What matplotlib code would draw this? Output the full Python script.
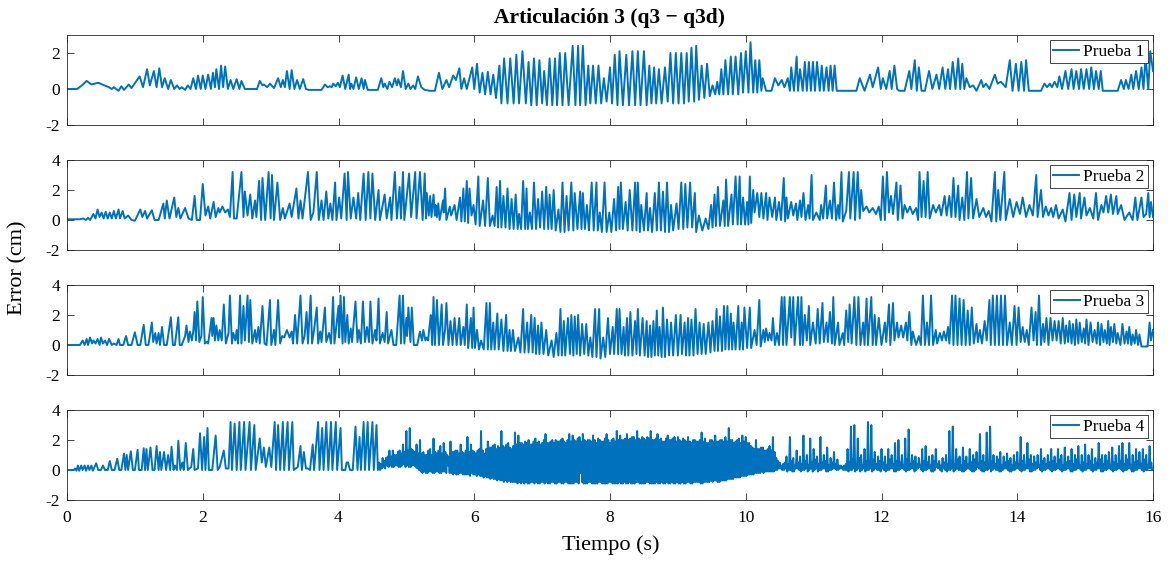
import numpy as np
import matplotlib
matplotlib.use("Agg")
import matplotlib.pyplot as plt

plt.rcParams["font.family"] = ["Liberation Serif", "DejaVu Serif"]
plt.rcParams["axes.unicode_minus"] = False

BLUE = "#0072BD"
EDGE = "#262626"

title = "Articulación 3 (q3 − q3d)"
labels = ["Prueba 1", "Prueba 2", "Prueba 3", "Prueba 4"]
x_ticks = [0, 2, 4, 6, 8, 10, 12, 14, 16]
y_limits = [(-2, 3), (-2, 4), (-2, 4), (-2, 4)]
y_ticks = [[-2, 0, 2], [-2, 0, 2, 4], [-2, 0, 2, 4], [-2, 0, 2, 4]]

# error samples (t [s], e [cm]) for each trial
prueba1 = [
    (0.00, 0.0), (0.15, 0.0), (0.22, 0.2), (0.29, 0.45), (0.36, 0.25), (0.46, 0.35), (0.55, 0.2),
    (0.62, 0.1), (0.66, 0.0), (0.69, 0.1), (0.76, -0.1), (0.80, 0.15), (0.84, -0.05), (0.91, 0.25),
    (0.95, 0.05), (1.07, 0.7), (1.12, 0.1), (1.18, 1.1), (1.22, 0.2), (1.28, 1.0), (1.32, 0.1),
    (1.36, 1.15), (1.40, 0.1), (1.44, 0.6), (1.49, 0.0), (1.53, 0.5), (1.58, 0.0), (1.62, 0.2),
    (1.66, 0.0), (1.69, 0.1), (1.74, -0.05), (1.78, 0.2), (1.82, 0.0), (1.86, 0.6), (1.90, 0.0),
    (1.93, 0.75), (1.97, 0.0), (2.00, 0.75), (2.04, 0.0), (2.08, 0.8), (2.12, 0.0), (2.15, 0.9),
    (2.18, 0.1), (2.20, 1.1), (2.24, 0.0), (2.27, 1.3), (2.30, 0.1), (2.33, 1.25), (2.37, 0.0),
    (2.41, 0.5), (2.45, 0.0), (2.50, 0.55), (2.54, 0.0), (2.57, 0.45), (2.62, 0.0), (2.80, 0.0),
    (2.84, 0.45), (2.88, 0.2), (2.90, 0.25), (2.95, 0.1), (2.99, 0.3), (3.05, 0.05), (3.11, 0.6),
    (3.15, 0.1), (3.18, 0.5), (3.21, 0.1), (3.24, 1.0), (3.28, 0.0), (3.31, 1.05), (3.35, 0.0),
    (3.39, 0.5), (3.43, 0.0), (3.48, 0.55), (3.52, 0.0), (3.56, -0.05), (3.75, -0.05), (3.80, 0.25),
    (3.84, 0.1), (3.87, 0.15), (3.90, 0.1), (3.92, 0.3), (3.96, 0.15), (3.99, 0.35), (4.02, 0.1),
    (4.06, 0.75), (4.10, 0.0), (4.15, 0.8), (4.17, 0.0), (4.19, 0.3), (4.22, 0.0), (4.26, 0.65),
    (4.30, 0.0), (4.34, 0.6), (4.37, 0.0), (4.39, 0.5), (4.43, -0.05), (4.58, -0.05), (4.63, 0.6),
    (4.66, 0.1), (4.68, 0.3), (4.72, 0.0), (4.75, 0.4), (4.79, 0.1), (4.83, 0.6), (4.86, 0.2),
    (4.88, 0.55), (4.92, 0.1), (4.95, 1.0), (4.99, 0.0), (5.03, 0.3), (5.06, 0.0), (5.10, 0.2),
    (5.13, 0.0), (5.17, 0.7), (5.22, 0.1), (5.27, -0.05), (5.35, -0.1), (5.42, -0.1), (5.48, 0.9),
    (5.53, 0.0), (5.59, 0.5), (5.63, 0.1), (5.69, 0.75), (5.73, 0.5), (5.78, 1.15), (5.81, 0.0),
    (5.85, 0.6), (5.89, 0.0), (5.97, 1.2), (6.00, 0.0), (6.04, 1.4), (6.08, -0.2), (6.12, 0.9),
    (6.16, -0.3), (6.20, 0.95), (6.24, -0.3), (6.28, 0.8), (6.32, -0.5), (6.37, 1.3), (6.40, -0.8),
    (6.44, 1.7), (6.49, -0.8), (6.53, 1.7), (6.58, -0.8), (6.62, 1.9), (6.66, -0.8), (6.71, 2.1),
    (6.76, -0.8), (6.80, 1.5), (6.84, -0.9), (6.88, 1.7), (6.92, -0.9), (6.96, 1.6), (7.00, -0.8),
    (7.03, 1.0), (7.07, -0.9), (7.11, 1.7), (7.15, -0.9), (7.19, 1.7), (7.22, -0.9), (7.26, 2.0),
    (7.30, -0.9), (7.34, 2.0), (7.39, -0.9), (7.45, 2.4), (7.49, -0.9), (7.53, 2.4), (7.56, -0.9),
    (7.60, 2.4), (7.64, -0.9), (7.68, 1.3), (7.71, -0.8), (7.75, 1.3), (7.79, -0.8), (7.83, 1.3),
    (7.87, -0.8), (7.91, 0.6), (7.95, -0.7), (8.00, 1.2), (8.03, -0.8), (8.07, 1.9), (8.11, -0.9),
    (8.14, 2.1), (8.19, -0.9), (8.24, 1.9), (8.28, -0.9), (8.33, 2.1), (8.37, -0.9), (8.41, 2.1),
    (8.45, -0.9), (8.50, 2.1), (8.54, -0.9), (8.58, 1.3), (8.61, -0.8), (8.65, 1.2), (8.68, -0.8),
    (8.72, 1.1), (8.76, -0.8), (8.81, 1.2), (8.85, -0.7), (8.89, 2.0), (8.93, -0.8), (8.97, 2.0),
    (9.01, -0.8), (9.05, 2.0), (9.09, -0.8), (9.13, 2.0), (9.16, -0.7), (9.20, 2.3), (9.24, -0.7),
    (9.27, 2.4), (9.31, -0.6), (9.35, 1.3), (9.39, -0.5), (9.43, 1.4), (9.47, -0.4), (9.51, 0.2),
    (9.55, -0.3), (9.58, 0.4), (9.61, -0.3), (9.64, 1.1), (9.67, -0.3), (9.70, 1.6), (9.74, -0.3),
    (9.78, 1.8), (9.81, -0.3), (9.85, 1.8), (9.89, -0.3), (9.93, 2.0), (9.96, -0.2), (10.00, 2.1),
    (10.04, -0.2), (10.07, 2.6), (10.11, -0.2), (10.14, 1.6), (10.17, -0.2), (10.20, 1.6),
    (10.23, -0.1), (10.25, 0.6), (10.30, -0.1), (10.38, -0.1), (10.43, 0.6), (10.48, 0.2),
    (10.53, 0.5), (10.57, 0.1), (10.62, 0.6), (10.65, -0.1), (10.67, 1.2), (10.71, -0.1),
    (10.75, 1.8), (10.77, -0.1), (10.80, 1.1), (10.84, -0.1), (10.87, 1.5), (10.90, -0.1),
    (10.93, 1.5), (10.96, -0.1), (10.99, 1.5), (11.02, -0.1), (11.05, 1.5), (11.09, -0.1),
    (11.12, 1.3), (11.15, -0.1), (11.19, 1.2), (11.22, -0.1), (11.25, 1.3), (11.28, -0.1),
    (11.31, 1.3), (11.34, -0.1), (11.63, -0.1), (11.68, 0.6), (11.75, -0.1), (11.83, 0.8),
    (11.87, 0.1), (11.95, 1.2), (11.99, 0.0), (12.02, 0.6), (12.07, 0.0), (12.12, 1.0),
    (12.15, 0.0), (12.19, 1.3), (12.23, 0.0), (12.26, -0.1), (12.34, -0.1), (12.41, 1.0),
    (12.44, 0.0), (12.49, 1.6), (12.52, -0.1), (12.55, 1.2), (12.59, -0.1), (12.64, -0.1),
    (12.70, 1.0), (12.75, 0.0), (12.81, 0.8), (12.85, 0.0), (12.90, 1.2), (12.94, 0.0),
    (12.98, 1.1), (13.01, 0.0), (13.05, 1.5), (13.09, 0.0), (13.13, 1.7), (13.16, 0.0),
    (13.19, 1.4), (13.22, 0.0), (13.25, 0.6), (13.30, 0.1), (13.35, 0.2), (13.40, -0.1),
    (13.47, 0.5), (13.50, 0.1), (13.54, 0.3), (13.59, 0.0), (13.67, 0.8), (13.71, 0.3),
    (13.76, 0.4), (13.83, 0.1), (13.89, 1.6), (13.93, -0.1), (13.98, 1.4), (14.02, -0.1),
    (14.06, 1.5), (14.10, -0.1), (14.13, 1.6), (14.17, -0.1), (14.35, -0.1), (14.40, 0.3),
    (14.44, 0.1), (14.48, 0.3), (14.51, 0.1), (14.55, 0.4), (14.59, 0.1), (14.62, 0.7),
    (14.66, 0.0), (14.71, 1.0), (14.75, 0.0), (14.80, 1.1), (14.83, 0.0), (14.87, 1.0),
    (14.91, 0.0), (14.94, 1.1), (14.98, 0.0), (15.02, 1.1), (15.06, 0.0), (15.09, 1.2),
    (15.13, 0.0), (15.16, 1.0), (15.20, 0.0), (15.23, 1.0), (15.26, -0.1), (15.48, -0.1),
    (15.53, 0.5), (15.57, 0.0), (15.60, 0.5), (15.64, 0.0), (15.68, 0.8), (15.71, 0.0),
    (15.75, 1.0), (15.79, 0.0), (15.83, 1.2), (15.86, 0.0), (15.89, 1.8), (15.93, 0.0),
    (15.96, 2.1), (16.00, 1.0),
]

prueba2 = [
    (0.00, 0.05), (0.19, 0.05), (0.24, 0.1), (0.28, 0.0), (0.31, 0.15), (0.34, 0.0), (0.39, 0.4),
    (0.42, 0.1), (0.45, 0.7), (0.48, 0.2), (0.51, 0.5), (0.54, 0.1), (0.57, 0.55), (0.60, 0.1),
    (0.63, 0.5), (0.66, 0.1), (0.69, 0.6), (0.72, 0.1), (0.76, 0.7), (0.78, 0.1), (0.82, 0.6),
    (0.85, 0.1), (0.90, 0.3), (0.95, 0.0), (1.00, -0.05), (1.08, 0.7), (1.11, 0.2), (1.15, 0.6),
    (1.18, 0.1), (1.25, 0.65), (1.29, 0.0), (1.35, 0.0), (1.42, 1.1), (1.44, 0.1), (1.47, 1.3),
    (1.51, 0.1), (1.58, 1.5), (1.61, 0.2), (1.64, 0.8), (1.67, 0.1), (1.74, 0.8), (1.79, 0.1),
    (1.84, 0.0), (1.88, 1.6), (1.91, 0.0), (1.96, 0.0), (2.00, 2.4), (2.04, 0.3), (2.08, 0.9),
    (2.11, 0.1), (2.16, 1.2), (2.19, 0.2), (2.23, 0.8), (2.25, 0.5), (2.29, 0.9), (2.33, 0.5),
    (2.37, 0.7), (2.40, 0.2), (2.44, 3.2), (2.46, 0.1), (2.50, 0.1), (2.57, 3.2), (2.60, 0.2),
    (2.62, 1.9), (2.66, 0.3), (2.70, 1.7), (2.73, 0.1), (2.77, 1.3), (2.79, 0.2), (2.83, 2.6),
    (2.86, 0.0), (2.88, 2.8), (2.92, 0.0), (2.97, 3.2), (3.00, 0.1), (3.02, 3.0), (3.05, 0.0),
    (3.10, 2.5), (3.14, 0.0), (3.18, 0.8), (3.21, 0.1), (3.28, 1.1), (3.31, 0.2), (3.38, 2.1),
    (3.41, 0.1), (3.44, 1.3), (3.47, 0.1), (3.55, 3.2), (3.59, 0.0), (3.63, 0.5), (3.68, 3.2),
    (3.71, 0.0), (3.75, 1.3), (3.78, 0.0), (3.82, 1.9), (3.85, 0.1), (3.88, 1.1), (3.91, 0.0),
    (3.95, 2.5), (3.97, 0.0), (4.01, 1.5), (4.04, 0.1), (4.09, 3.1), (4.12, 0.0), (4.14, 3.2),
    (4.18, 0.1), (4.22, 1.5), (4.26, 0.1), (4.29, 1.8), (4.32, 0.0), (4.37, 3.1), (4.40, 0.0),
    (4.44, 3.2), (4.47, 0.1), (4.50, 3.1), (4.54, 0.0), (4.59, 2.0), (4.61, 0.0), (4.68, 1.7),
    (4.71, 0.1), (4.76, 1.5), (4.78, 0.0), (4.83, 3.2), (4.86, 0.1), (4.90, 2.2), (4.92, 0.1),
    (4.95, 3.2), (4.97, 0.0), (5.04, 3.1), (5.07, 0.2), (5.13, 3.2), (5.15, 0.1), (5.20, 3.2),
    (5.24, 0.0), (5.27, 3.1), (5.29, 0.1), (5.30, 1.8), (5.33, 0.3), (5.35, 1.6), (5.37, 0.2),
    (5.40, 1.7), (5.42, 0.3), (5.43, 1.0), (5.45, 0.2), (5.47, 1.1), (5.49, 0.0), (5.54, 1.3),
    (5.55, 0.5), (5.57, 2.1), (5.59, 0.0), (5.64, 0.9), (5.66, 0.3), (5.71, 1.0), (5.74, 0.0),
    (5.79, 1.5), (5.81, -0.1), (5.84, 2.1), (5.86, -0.1), (5.89, 2.6), (5.91, -0.2), (5.93, 2.1),
    (5.96, 0.3), (5.99, 1.0), (6.02, -0.3), (6.06, 2.9), (6.08, -0.4), (6.13, 1.3), (6.16, -0.4),
    (6.20, 2.8), (6.23, -0.4), (6.27, 0.3), (6.30, -0.4), (6.33, 2.2), (6.35, -0.5), (6.38, 2.6),
    (6.40, -0.5), (6.43, 1.6), (6.46, -0.5), (6.49, 2.1), (6.52, -0.6), (6.55, 1.4), (6.58, -0.6),
    (6.61, 1.7), (6.64, -0.6), (6.66, 0.4), (6.69, -0.6), (6.72, 2.6), (6.75, -0.6), (6.77, 2.1),
    (6.79, -0.6), (6.82, 0.5), (6.85, -0.6), (6.88, 2.5), (6.91, -0.6), (6.94, 1.4), (6.97, -0.5),
    (7.00, 1.9), (7.03, -0.6), (7.06, 2.2), (7.09, -0.6), (7.11, 1.7), (7.14, -0.6), (7.17, 2.0),
    (7.20, -0.7), (7.24, 0.7), (7.27, -0.8), (7.30, 2.5), (7.33, -0.8), (7.36, 1.6), (7.39, -0.7),
    (7.43, 2.5), (7.46, -0.7), (7.48, 1.8), (7.52, -0.6), (7.56, 1.9), (7.58, -0.6), (7.60, 1.8),
    (7.63, -0.6), (7.66, 1.0), (7.69, -0.7), (7.73, 2.5), (7.76, -0.7), (7.80, 2.5), (7.82, -0.7),
    (7.85, 0.5), (7.88, -0.8), (7.92, 2.5), (7.95, -0.8), (7.99, 0.5), (8.02, -0.8), (8.06, 1.4),
    (8.09, -0.7), (8.12, 2.2), (8.14, -0.6), (8.16, 2.5), (8.19, -0.6), (8.23, 1.2), (8.26, -0.7),
    (8.29, 2.0), (8.33, -0.7), (8.37, 2.5), (8.39, -0.7), (8.41, 2.5), (8.44, -0.8), (8.46, 1.0),
    (8.50, -0.7), (8.54, 1.8), (8.56, -0.7), (8.59, 0.8), (8.62, -0.8), (8.66, 1.8), (8.69, -0.7),
    (8.72, 2.5), (8.75, -0.7), (8.78, 1.9), (8.81, -0.8), (8.84, 2.5), (8.87, -0.8), (8.90, 1.0),
    (8.93, -0.7), (8.98, 1.1), (9.01, -0.6), (9.05, 2.5), (9.08, -0.6), (9.11, 2.4), (9.14, -0.5),
    (9.18, 2.5), (9.21, -0.5), (9.25, 1.8), (9.27, -0.8), (9.31, 0.3), (9.36, -0.7), (9.41, 0.1),
    (9.45, -0.6), (9.49, 1.0), (9.51, -0.5), (9.54, 1.7), (9.56, -0.4), (9.59, 2.2), (9.62, -0.4),
    (9.67, 1.3), (9.69, -0.4), (9.71, 2.7), (9.74, -0.4), (9.79, 1.7), (9.81, -0.3), (9.85, 2.9),
    (9.88, -0.3), (9.91, 2.9), (9.93, -0.3), (9.96, 1.5), (9.99, -0.3), (10.02, 1.2), (10.04, -0.3),
    (10.06, 2.9), (10.08, -0.2), (10.11, 2.0), (10.13, 0.5), (10.17, 1.8), (10.20, 0.2),
    (10.23, 1.8), (10.26, 0.1), (10.30, 1.8), (10.32, 0.0), (10.35, 1.5), (10.39, 0.2),
    (10.43, 1.5), (10.45, 0.0), (10.49, 1.2), (10.52, 0.0), (10.56, 2.8), (10.58, -0.1),
    (10.60, 1.5), (10.62, 0.1), (10.67, 1.2), (10.70, 0.3), (10.74, 1.1), (10.76, 0.0),
    (10.80, 1.3), (10.82, 0.2), (10.85, 1.8), (10.88, 0.0), (10.92, 1.0), (10.94, 0.1),
    (10.97, 3.0), (10.99, 0.0), (11.04, 0.5), (11.09, 0.0), (11.11, 1.0), (11.14, 0.1),
    (11.18, 2.3), (11.20, 0.1), (11.24, 1.3), (11.27, 0.1), (11.30, 2.5), (11.33, 0.0),
    (11.36, 1.0), (11.38, 0.1), (11.41, 3.2), (11.43, -0.1), (11.48, 0.6), (11.52, 3.2),
    (11.54, 0.1), (11.59, 3.2), (11.61, 0.0), (11.65, 3.2), (11.68, 0.1), (11.70, 2.0),
    (11.73, 0.6), (11.78, 0.9), (11.82, 0.5), (11.87, 0.8), (11.92, 0.4), (11.96, 0.9),
    (11.99, 0.0), (12.02, 2.9), (12.05, 0.0), (12.08, 3.2), (12.11, 0.5), (12.14, 1.6),
    (12.17, 0.4), (12.22, 2.5), (12.24, 0.0), (12.28, 2.3), (12.31, 0.1), (12.34, 1.0),
    (12.38, 0.5), (12.42, 0.9), (12.46, 0.4), (12.51, 0.8), (12.54, 0.0), (12.56, 3.2),
    (12.59, 0.2), (12.62, 2.6), (12.65, 0.2), (12.68, 3.2), (12.71, 0.1), (12.76, 1.0),
    (12.80, 0.5), (12.85, 1.0), (12.88, 0.3), (12.93, 1.6), (12.96, 0.3), (13.00, 1.6),
    (13.03, 0.2), (13.06, 2.8), (13.09, 0.2), (13.13, 2.3), (13.15, 0.0), (13.19, 1.5),
    (13.22, 0.0), (13.26, 3.2), (13.28, 0.1), (13.32, 2.8), (13.35, 0.1), (13.40, 1.4),
    (13.44, 0.2), (13.50, 0.8), (13.54, 0.2), (13.58, 0.6), (13.62, -0.1), (13.67, 3.2),
    (13.69, -0.1), (13.72, 2.0), (13.75, 0.0), (13.81, 3.2), (13.83, 0.0), (13.89, 1.4),
    (13.94, 0.2), (13.99, 1.2), (14.04, 0.4), (14.08, 1.5), (14.13, 0.2), (14.18, 1.0),
    (14.23, 0.3), (14.28, 3.0), (14.30, 0.2), (14.35, 2.0), (14.38, 0.2), (14.42, 0.9),
    (14.46, 0.3), (14.50, 0.8), (14.53, 0.2), (14.57, 1.0), (14.61, 0.1), (14.67, 0.7),
    (14.71, -0.1), (14.77, 1.8), (14.80, 0.0), (14.84, 1.7), (14.87, 0.2), (14.92, 1.8),
    (14.94, 0.1), (14.99, 1.5), (15.02, 0.3), (15.07, 0.8), (15.12, 0.1), (15.16, 1.8),
    (15.19, 0.0), (15.24, 1.0), (15.27, 0.5), (15.31, 1.6), (15.34, 0.5), (15.38, 1.7),
    (15.41, 0.4), (15.46, 1.6), (15.48, 0.4), (15.53, 1.0), (15.58, 0.0), (15.65, 0.5),
    (15.70, 0.0), (15.74, 1.5), (15.77, 0.0), (15.83, 1.5), (15.86, 0.2), (15.90, 0.4),
    (15.93, 1.8), (15.95, 0.2), (15.97, 1.2), (16.00, 0.2),
]

prueba3 = [
    (0.00, 0.0), (0.19, 0.0), (0.23, 0.3), (0.26, 0.0), (0.29, 0.4), (0.31, 0.0), (0.34, 0.5),
    (0.37, 0.1), (0.39, 0.3), (0.42, 0.1), (0.45, 0.4), (0.48, 0.0), (0.50, 0.5), (0.53, 0.1),
    (0.56, 0.3), (0.59, 0.0), (0.62, 0.4), (0.66, 0.0), (0.69, 0.1), (0.73, 0.0), (0.76, 0.4),
    (0.78, 0.0), (0.83, 0.0), (0.87, 0.6), (0.90, 0.0), (0.95, 0.0), (1.00, 0.85), (1.04, 0.0),
    (1.08, 0.0), (1.13, 1.35), (1.16, 0.0), (1.20, 0.0), (1.25, 1.5), (1.27, 0.2), (1.30, 0.8),
    (1.32, 0.1), (1.35, 0.8), (1.37, 0.0), (1.40, 1.2), (1.43, 0.0), (1.47, 0.0), (1.53, 1.85),
    (1.56, 0.0), (1.59, 0.0), (1.64, 1.85), (1.66, 0.0), (1.69, 0.0), (1.74, 0.6), (1.76, 1.3),
    (1.79, 0.2), (1.81, 0.9), (1.84, 0.3), (1.86, 0.9), (1.88, 2.2), (1.90, 0.3), (1.92, 2.9),
    (1.95, 0.2), (1.98, 0.6), (2.00, 3.2), (2.03, 0.1), (2.06, 0.2), (2.08, 0.1), (2.13, 1.8),
    (2.14, 0.6), (2.16, 1.8), (2.18, 0.3), (2.20, 1.3), (2.23, 0.3), (2.25, 1.0), (2.28, 0.3),
    (2.31, 2.7), (2.34, 0.1), (2.38, 0.8), (2.40, 3.3), (2.43, 0.1), (2.45, 0.8), (2.48, 0.3),
    (2.50, 1.0), (2.52, 0.1), (2.55, 3.3), (2.57, 0.1), (2.60, 2.6), (2.62, 0.3), (2.66, 3.3),
    (2.68, 0.2), (2.70, 3.0), (2.73, 0.1), (2.77, 1.0), (2.79, 0.2), (2.82, 1.2), (2.84, 0.1),
    (2.88, 2.6), (2.91, 0.1), (2.94, 0.0), (2.99, 3.0), (3.01, 0.0), (3.05, 1.0), (3.07, 0.0),
    (3.11, 3.0), (3.14, 0.1), (3.17, 0.6), (3.20, 0.5), (3.24, 1.0), (3.28, 0.5), (3.31, 0.9),
    (3.33, 0.1), (3.36, 2.0), (3.39, 0.1), (3.44, 3.3), (3.47, 0.1), (3.50, 0.6), (3.53, 2.2),
    (3.55, 0.1), (3.59, 3.3), (3.61, 0.1), (3.64, 1.0), (3.68, 2.5), (3.70, 0.1), (3.73, 0.9),
    (3.75, 0.2), (3.80, 2.5), (3.82, 0.2), (3.86, 0.8), (3.89, 0.1), (3.92, 3.2), (3.94, 0.1),
    (4.00, 2.6), (4.01, 0.5), (4.03, 3.3), (4.06, 0.1), (4.08, 3.2), (4.10, 0.2), (4.13, 2.0),
    (4.15, 0.1), (4.18, 1.1), (4.20, 0.2), (4.25, 2.9), (4.28, 0.2), (4.30, 1.0), (4.33, 0.1),
    (4.36, 2.9), (4.39, 0.2), (4.42, 1.2), (4.45, 0.2), (4.47, 2.9), (4.50, 0.1), (4.54, 1.0),
    (4.56, 0.3), (4.59, 3.1), (4.61, 0.1), (4.65, 0.8), (4.68, 0.2), (4.71, 2.2), (4.73, 0.1),
    (4.78, 1.0), (4.81, 0.0), (4.85, 0.0), (4.90, 3.3), (4.92, 0.1), (4.95, 3.3), (4.97, 0.1),
    (5.00, 1.8), (5.01, 0.6), (5.03, 2.5), (5.06, 0.2), (5.08, 2.5), (5.11, 0.0), (5.16, 0.0),
    (5.20, 0.9), (5.23, 0.3), (5.25, 1.0), (5.28, 0.3), (5.30, 0.5), (5.32, 0.3), (5.34, 1.2),
    (5.36, 2.0), (5.38, 0.0), (5.40, 3.2), (5.42, 0.0), (5.45, 3.0), (5.48, 0.0), (5.52, 2.7),
    (5.54, 0.0), (5.57, 1.0), (5.59, 2.8), (5.62, 0.0), (5.65, 1.6), (5.68, 0.0), (5.71, 1.8),
    (5.74, 0.0), (5.78, 1.8), (5.80, 0.0), (5.84, 1.2), (5.86, 0.0), (5.89, 2.7), (5.91, -0.2),
    (5.95, 1.8), (5.97, -0.2), (5.99, 2.5), (6.01, -0.2), (6.04, 1.0), (6.07, -0.3), (6.10, 0.3),
    (6.14, -0.3), (6.18, 2.8), (6.20, -0.3), (6.23, 2.8), (6.25, -0.3), (6.28, 1.5), (6.30, -0.3),
    (6.34, 2.1), (6.36, -0.3), (6.40, 1.7), (6.43, -0.4), (6.47, 2.0), (6.49, -0.4), (6.52, 1.0),
    (6.54, -0.4), (6.57, 1.0), (6.60, -0.4), (6.65, 0.5), (6.68, -0.5), (6.72, 2.4), (6.74, -0.5),
    (6.78, 1.5), (6.80, -0.5), (6.84, 2.0), (6.86, -0.5), (6.89, 1.8), (6.91, -0.6), (6.94, 1.3),
    (6.96, -0.6), (6.99, 1.5), (7.02, -0.6), (7.06, 1.0), (7.09, -0.7), (7.14, 0.3), (7.17, -0.8),
    (7.21, 0.8), (7.24, -0.7), (7.27, 2.4), (7.29, -0.7), (7.32, 1.6), (7.34, -0.7), (7.38, 1.8),
    (7.41, -0.6), (7.43, 2.0), (7.46, -0.7), (7.48, 1.9), (7.51, -0.6), (7.53, 2.0), (7.56, -0.7),
    (7.59, 1.4), (7.62, -0.6), (7.65, 1.4), (7.68, -0.7), (7.71, 0.5), (7.74, -0.8), (7.78, 2.4),
    (7.80, -0.8), (7.84, 2.4), (7.86, -0.9), (7.90, 0.5), (7.93, -0.8), (7.97, 1.8), (8.00, -0.6),
    (8.04, 1.2), (8.06, -0.6), (8.10, 2.4), (8.12, -0.6), (8.14, 2.4), (8.17, -0.6), (8.20, 1.2),
    (8.22, -0.7), (8.25, 1.8), (8.27, -0.7), (8.30, 2.2), (8.33, -0.7), (8.37, 1.6), (8.39, -0.6),
    (8.41, 2.4), (8.44, -0.7), (8.48, 1.8), (8.51, -0.7), (8.54, 1.6), (8.56, -0.8), (8.59, 1.3),
    (8.61, -0.8), (8.64, 1.6), (8.66, -0.7), (8.69, 2.3), (8.71, -0.7), (8.73, 1.2), (8.76, -0.8),
    (8.78, 2.5), (8.81, -0.8), (8.84, 1.7), (8.87, -0.7), (8.90, 1.5), (8.93, -0.7), (8.97, 2.0),
    (9.00, -0.7), (9.04, 2.0), (9.06, -0.6), (9.10, 1.5), (9.12, -0.7), (9.15, 1.8), (9.17, -0.7),
    (9.20, 1.7), (9.23, -0.7), (9.26, 2.4), (9.29, -0.6), (9.32, 1.5), (9.35, -0.6), (9.38, 1.4),
    (9.41, -0.6), (9.45, 1.5), (9.48, -0.5), (9.51, 1.6), (9.54, -0.4), (9.57, 2.4), (9.59, -0.4),
    (9.62, 1.9), (9.65, -0.4), (9.68, 2.6), (9.70, -0.3), (9.73, 2.6), (9.75, -0.3), (9.78, 2.1),
    (9.80, -0.3), (9.82, 1.5), (9.85, -0.3), (9.89, 2.6), (9.91, -0.3), (9.94, 1.5), (9.96, -0.3),
    (9.98, 2.5), (10.02, -0.2), (10.06, 2.5), (10.08, -0.2), (10.13, 1.0), (10.16, 0.0),
    (10.20, 3.0), (10.22, -0.1), (10.26, 1.0), (10.28, 0.2), (10.30, 1.1), (10.33, 0.3),
    (10.35, 0.8), (10.38, 0.3), (10.40, 1.8), (10.43, 0.0), (10.46, 0.8), (10.49, 0.0),
    (10.53, 3.2), (10.55, 0.0), (10.57, 3.2), (10.60, 0.0), (10.65, 3.2), (10.67, 0.5),
    (10.70, 3.2), (10.72, 0.0), (10.77, 3.2), (10.80, 0.0), (10.82, 3.2), (10.84, 0.0),
    (10.87, 2.0), (10.90, 0.3), (10.93, 2.6), (10.95, 0.0), (10.99, 1.5), (11.03, 0.1),
    (11.06, 2.4), (11.09, 0.1), (11.13, 2.8), (11.15, 0.2), (11.19, 1.5), (11.21, 0.2),
    (11.24, 2.2), (11.27, 0.1), (11.29, 3.2), (11.31, 0.0), (11.36, 1.5), (11.38, 0.0),
    (11.43, 0.8), (11.45, 0.0), (11.48, 2.3), (11.51, 0.2), (11.53, 2.7), (11.56, 0.1),
    (11.60, 3.2), (11.63, 0.0), (11.66, 3.2), (11.69, 0.0), (11.73, 1.5), (11.75, 0.0),
    (11.78, 3.1), (11.80, 0.0), (11.85, 3.2), (11.87, 0.0), (11.90, 2.0), (11.92, 0.0),
    (11.96, 1.8), (12.00, 0.0), (12.05, 1.5), (12.07, 0.2), (12.11, 2.7), (12.13, 0.0),
    (12.17, 2.8), (12.19, 0.3), (12.23, 1.5), (12.25, 0.5), (12.29, 1.3), (12.32, 0.5),
    (12.36, 1.5), (12.38, 0.3), (12.41, 2.2), (12.44, 0.0), (12.46, 0.9), (12.51, 0.0),
    (12.55, 0.6), (12.58, 0.0), (12.61, 3.3), (12.64, 0.0), (12.67, 1.5), (12.70, 0.0),
    (12.73, 3.3), (12.76, 0.0), (12.80, 1.0), (12.82, 0.1), (12.86, 0.8), (12.89, 0.3),
    (12.92, 0.9), (12.95, 0.3), (12.98, 1.2), (13.00, 0.1), (13.04, 3.3), (13.06, 0.0),
    (13.09, 3.3), (13.12, 0.0), (13.15, 3.1), (13.18, 0.0), (13.21, 3.0), (13.24, 0.0),
    (13.27, 2.3), (13.30, 0.0), (13.33, 2.5), (13.36, 0.1), (13.40, 1.4), (13.42, 0.2),
    (13.45, 1.0), (13.48, 0.1), (13.52, 1.6), (13.55, 0.3), (13.59, 3.0), (13.61, 0.0),
    (13.64, 3.3), (13.67, 0.0), (13.70, 3.3), (13.73, 0.0), (13.76, 3.3), (13.79, 0.0),
    (13.82, 3.3), (13.85, 0.0), (13.89, 1.5), (13.92, 0.0), (13.96, 2.6), (13.99, 0.0),
    (14.02, 2.5), (14.05, 0.2), (14.08, 1.2), (14.11, 0.2), (14.14, 1.0), (14.17, 0.0),
    (14.21, 2.5), (14.24, 0.3), (14.27, 2.2), (14.29, 0.0), (14.32, 3.3), (14.35, 0.0),
    (14.38, 1.4), (14.40, 0.2), (14.43, 1.8), (14.46, 0.0), (14.49, 1.8), (14.52, 0.3),
    (14.55, 1.6), (14.58, 0.3), (14.61, 1.6), (14.64, 0.1), (14.67, 1.8), (14.70, 0.1),
    (14.72, 1.3), (14.75, 0.2), (14.77, 1.6), (14.80, 0.1), (14.82, 1.4), (14.85, 0.0),
    (14.87, 1.7), (14.90, 0.1), (14.92, 1.5), (14.95, 0.2), (14.98, 1.1), (15.00, 0.1),
    (15.02, 1.7), (15.05, 0.0), (15.08, 1.5), (15.11, 0.2), (15.14, 1.0), (15.17, 0.1),
    (15.19, 1.5), (15.22, 0.0), (15.24, 1.4), (15.27, 0.2), (15.29, 1.0), (15.32, 0.1),
    (15.34, 1.6), (15.36, 0.0), (15.38, 1.2), (15.41, 0.2), (15.43, 1.4), (15.46, 0.1),
    (15.48, 0.8), (15.52, 0.0), (15.55, 1.4), (15.58, 0.1), (15.61, 0.9), (15.63, 0.1),
    (15.65, 1.2), (15.68, 0.0), (15.70, 0.7), (15.73, 0.1), (15.75, 1.0), (15.78, 0.0),
    (15.80, 0.7), (15.83, -0.1), (15.92, -0.1), (15.95, 1.5), (15.97, 0.3), (16.00, 1.0),
]

# trial 4: individual samples up to 4.6 s, then alternating highs/lows every 0.025 s
prueba4_inicio = [
    (0.00, 0.0), (0.10, 0.0), (0.12, 0.1), (0.14, -0.05), (0.16, 0.3), (0.18, -0.05), (0.21, 0.3),
    (0.23, 0.0), (0.26, 0.3), (0.28, -0.05), (0.31, 0.3), (0.33, 0.0), (0.36, 0.3), (0.38, -0.05),
    (0.43, 0.45), (0.46, 0.0), (0.50, 0.0), (0.53, 0.3), (0.56, 0.0), (0.60, 0.0), (0.63, 0.6),
    (0.66, 0.0), (0.70, 0.0), (0.74, 0.75), (0.77, 0.0), (0.80, 0.0), (0.84, 1.1), (0.86, 0.0),
    (0.88, 1.0), (0.90, 0.0), (0.94, 1.25), (0.97, 0.0), (1.00, 0.0), (1.04, 1.35), (1.06, 0.0),
    (1.10, 0.0), (1.13, 1.45), (1.15, 0.0), (1.17, 1.4), (1.19, 0.0), (1.23, 1.5), (1.26, 0.0),
    (1.29, 0.0), (1.32, 1.6), (1.35, 0.0), (1.37, 1.2), (1.39, 0.0), (1.43, 1.2), (1.46, 0.0),
    (1.49, 1.0), (1.52, 0.0), (1.54, 1.55), (1.57, 0.0), (1.59, 0.3), (1.62, 0.0), (1.64, 1.95),
    (1.67, 0.0), (1.70, 0.5), (1.72, 0.0), (1.75, 1.8), (1.78, 0.0), (1.83, 0.2), (1.86, 1.4),
    (1.88, 0.0), (1.93, 0.1), (1.96, 2.45), (1.99, 0.0), (2.02, 2.2), (2.04, 0.0), (2.07, 2.8),
    (2.09, 0.0), (2.14, 0.0), (2.19, 2.3), (2.22, 0.0), (2.25, 0.2), (2.31, 1.3), (2.34, 0.1),
    (2.38, 0.1), (2.41, 3.2), (2.43, 0.0), (2.47, 3.1), (2.50, 0.0), (2.54, 3.2), (2.56, 0.0),
    (2.61, 3.2), (2.63, 0.0), (2.69, 3.2), (2.71, 0.0), (2.76, 3.0), (2.78, 0.0), (2.84, 2.1),
    (2.87, 0.5), (2.90, 1.5), (2.93, 0.2), (2.98, 1.5), (3.01, 0.2), (3.06, 3.2), (3.08, 0.0),
    (3.11, 3.0), (3.14, 0.0), (3.18, 3.2), (3.20, 0.0), (3.25, 3.2), (3.27, 0.0), (3.32, 3.2),
    (3.34, 0.0), (3.37, 0.1), (3.40, 0.2), (3.44, 1.6), (3.46, 0.0), (3.49, 1.2), (3.52, 0.1),
    (3.55, 0.1), (3.58, 0.0), (3.62, 1.7), (3.64, 0.0), (3.70, 3.2), (3.72, 0.0), (3.76, 2.8),
    (3.78, 0.0), (3.82, 3.2), (3.85, 0.0), (3.89, 3.2), (3.91, 0.0), (3.96, 3.2), (3.98, 0.0),
    (4.03, 2.8), (4.05, 0.0), (4.10, 0.0), (4.12, 0.5), (4.14, 0.5), (4.17, 0.0), (4.21, 0.0),
    (4.25, 2.9), (4.28, 0.0), (4.31, 2.2), (4.33, 0.0), (4.37, 3.2), (4.39, 0.0), (4.43, 3.2),
    (4.45, 0.0), (4.50, 3.2), (4.52, 0.0), (4.56, 3.0), (4.58, 0.0),
]
prueba4_t0 = 4.6
prueba4_dt = 0.025
prueba4_altos = [
    # 4.6 - 5.2
    0.5, 0.4, 0.8, 0.6, 0.8, 0.9, 1.3, 0.9, 1.3, 1.0, 1.0, 1.2,
    1.3, 1.1, 1.7, 1.2, 2.6, 1.3, 2.8, 1.4, 1.3, 1.2, 1.7, 1.1,
    # 5.2 - 5.65
    2.0, 1.1, 1.2, 1.0, 1.0, 1.3, 1.4, 1.0, 2.1, 1.2, 1.1, 1.3, 1.6, 1.1, 1.8, 1.2, 1.0, 0.9,
    # 5.65 - 6.2
    1.9, 1.2, 1.2, 1.3, 1.3, 1.1, 1.7, 1.2, 1.1, 1.3, 2.2, 1.2,
    1.7, 1.3, 1.2, 1.1, 1.3, 1.4, 2.6, 1.3, 1.1, 1.4,
    # 6.2 - 6.7
    1.9, 1.5, 1.5, 1.6, 1.7, 1.4, 1.6, 1.5, 2.6, 1.6, 1.5, 1.7, 1.8, 1.5, 1.4, 1.6, 2.5, 1.7, 2.3, 1.8,
    # 6.7 - 7.2
    1.8, 1.7, 1.9, 1.8, 2.0, 1.7, 1.7, 1.9, 2.1, 1.8, 1.9, 1.7, 1.8, 2.0, 2.4, 1.8, 1.8, 1.9, 2.0, 1.8,
    # 7.2 - 7.65
    2.0, 1.9, 1.9, 2.0, 2.1, 1.9, 1.8, 2.0, 2.4, 1.9, 2.3, 2.0, 1.9, 2.1, 2.2, 1.9, 2.4, 2.0,
    # 7.65 - 8.15
    1.9, 2.0, 2.0, 1.9, 2.3, 2.0, 1.8, 2.1, 2.0, 1.9, 1.9, 2.1, 2.4, 2.0, 1.8, 2.0, 2.1, 1.9, 2.6, 2.0,
    # 8.15 - 8.65
    2.3, 2.0, 2.0, 2.1, 2.4, 2.0, 2.1, 2.2, 2.2, 2.0, 2.6, 2.1, 2.0, 2.2, 2.1, 2.0, 2.2, 2.1, 2.6, 2.0,
    # 8.65 - 9.15
    2.0, 2.1, 2.4, 2.0, 2.1, 1.9, 1.9, 2.1, 2.3, 2.0, 2.0, 2.1, 2.2, 1.9, 2.2, 2.0, 1.9, 2.1, 2.0, 1.9,
    # 9.15 - 9.65
    2.2, 1.9, 1.8, 2.0, 2.0, 1.9, 1.9, 2.0, 2.5, 1.9, 2.1, 1.8, 1.8, 2.0, 2.0, 1.9, 2.3, 1.9, 1.9, 2.0,
    # 9.65 - 10.1
    2.0, 1.9, 2.2, 1.9, 2.8, 2.0, 2.0, 1.8, 1.9, 2.0, 2.1, 1.8, 2.3, 1.9, 2.2, 1.8, 1.8, 1.6,
    # 10.1 - 10.5
    1.5, 1.4, 2.0, 1.4, 1.4, 1.5, 1.5, 1.3, 1.3, 1.4, 1.6, 1.3, 2.2, 1.2, 0.8, 0.6,
    # 10.5 - 10.6
    0.5, 0.3, 0.4, 0.5,
    # 10.6 - 11.4
    0.9, 0.4, 2.2, 0.6, 0.8, 0.3, 1.3, 0.5, 0.9, 0.4, 2.3, 0.6, 1.0, 0.3, 2.1, 0.5,
    1.4, 0.7, 0.9, 0.4, 2.2, 0.5, 1.0, 0.6, 1.5, 0.3, 0.8, 0.5, 1.2, 0.4, 0.7, 0.3,
    # 11.4 - 11.5
    0.3, 0.2, 0.3, 0.4,
    # 11.5 - 16.0
    1.4, 0.5, 2.9, 0.7, 3.0, 0.4, 2.1, 0.8, 1.0, 0.3, 1.4, 0.6, 3.2, 0.5, 3.0, 0.7, 1.2, 0.4, 0.9, 0.6,
    1.4, 0.5, 0.9, 0.3, 1.4, 0.7, 1.0, 0.4, 1.8, 0.6, 2.0, 0.5, 1.0, 0.3, 2.1, 0.7, 2.7, 0.4, 1.0, 0.6,
    0.9, 0.4, 0.8, 0.3, 1.4, 0.6, 1.6, 0.5, 0.9, 0.3, 1.0, 0.6, 1.4, 0.4, 0.6, 0.3, 0.8, 0.5, 1.0, 0.4,
    2.6, 0.6, 2.9, 0.4, 1.4, 0.7, 0.9, 0.3, 1.5, 0.6, 0.9, 0.4, 1.4, 0.5, 1.0, 0.7, 1.2, 0.4, 2.4, 0.6,
    1.0, 0.5, 2.5, 0.3, 2.9, 0.6, 1.0, 0.4, 0.9, 0.7, 1.2, 0.3, 0.9, 0.5, 1.1, 0.6, 0.8, 0.3, 1.0, 0.5,
    1.2, 0.4, 2.2, 0.6, 1.0, 0.3, 1.8, 0.7, 1.0, 0.4, 0.9, 0.5, 1.0, 0.3, 1.4, 0.6, 0.8, 0.4, 1.0, 0.5,
    1.4, 0.6, 0.9, 0.4, 1.4, 0.7, 1.0, 0.3, 1.5, 0.5, 0.9, 0.6, 1.4, 0.4, 1.0, 0.7, 1.6, 0.3, 1.0, 0.5,
    1.7, 0.4, 1.0, 0.6, 1.4, 0.3, 0.8, 0.5, 1.8, 0.7, 1.0, 0.4, 1.0, 0.6, 1.2, 0.3, 1.5, 0.5, 1.0, 0.4,
    1.6, 0.6, 1.8, 0.4, 1.0, 0.7, 1.8, 0.3, 1.0, 0.5, 1.4, 0.6, 1.2, 0.4, 1.4, 0.7, 1.0, 0.3, 1.6, 0.5,
]
prueba4_bajos = [
    # 4.6 - 5.2
    0.0, 0.1, 0.2, 0.1, 0.3, 0.2, 0.3, 0.2, 0.2, 0.3, 0.3, 0.2,
    0.2, 0.3, 0.4, 0.2, 0.3, 0.2, 0.2, 0.3, 0.3, 0.2, 0.1, 0.0,
    # 5.2 - 5.65
    -0.1, -0.2, -0.1, -0.2, -0.2, -0.1, -0.1, -0.2, -0.2, -0.1, -0.1, -0.2, -0.2, -0.1, -0.1, -0.2, 0.3, -0.2,
    # 5.65 - 6.2
    -0.2, -0.3, -0.2, -0.3, -0.3, -0.2, -0.2, -0.3, -0.3, -0.3, -0.3, -0.4,
    -0.2, -0.3, -0.3, -0.4, -0.3, -0.4, -0.4, -0.5, -0.4, -0.5,
    # 6.2 - 6.7
    -0.5, -0.6, -0.5, -0.6, -0.6, -0.7, -0.6, -0.7, -0.7, -0.8,
    -0.7, -0.8, -0.7, -0.8, -0.8, -0.8, -0.8, -0.9, -0.8, -0.9,
    # 6.7 - 7.2
    -0.8, -0.9, -0.8, -0.9, -0.9, -0.8, -0.8, -0.9, -0.8, -0.9,
    -0.9, -0.8, -0.8, -0.9, -0.8, -0.9, -0.9, -0.8, -0.8, -0.9,
    # 7.2 - 7.65
    -0.9, -0.8, -0.8, -0.9, -0.9, -0.8, -0.8, -0.9, -0.9, -0.9, -0.9, -0.8, -0.8, -0.9, -0.2, -0.8, -0.9, -0.9,
    # 7.65 - 8.15
    -0.9, -0.8, -0.8, -0.9, -0.9, -0.9, -0.9, -0.8, -0.8, -0.9,
    -0.9, -0.9, -0.9, -0.8, -0.8, -0.9, -0.9, -0.9, -0.9, -0.8,
    # 8.15 - 8.65
    -0.9, -0.9, -0.8, -0.9, -0.9, -0.8, -0.9, -0.9, -0.9, -0.8,
    -0.8, -0.9, -0.9, -0.9, -0.9, -0.8, -0.8, -0.9, -0.9, -0.9,
    # 8.65 - 9.15
    -0.9, -0.8, -0.9, -0.9, -0.8, -0.9, -0.9, -0.8, -0.9, -0.9,
    -0.8, -0.9, -0.9, -0.8, -0.9, -0.9, -0.8, -0.9, -0.9, -0.8,
    # 9.15 - 9.65
    -0.8, -0.9, -0.9, -0.8, -0.8, -0.8, -0.8, -0.9, -0.9, -0.8,
    -0.8, -0.8, -0.8, -0.7, -0.8, -0.7, -0.7, -0.8, -0.8, -0.7,
    # 9.65 - 10.1
    -0.7, -0.7, -0.7, -0.6, -0.6, -0.6, -0.6, -0.5, -0.5, -0.5, -0.5, -0.4, -0.4, -0.4, -0.4, -0.3, -0.3, -0.3,
    # 10.1 - 10.5
    -0.3, -0.2, -0.2, -0.2, -0.2, -0.1, -0.2, -0.1, -0.1, -0.1, -0.1, -0.1, -0.1, 0.0, 0.0, 0.1,
    # 10.5 - 10.6
    0.1, 0.0, 0.0, 0.1,
    # 10.6 - 11.4
    -0.1, 0.0, 0.0, -0.1, -0.1, 0.1, 0.1, 0.0, -0.1, 0.0, 0.0, 0.1, -0.1, 0.0, 0.1, -0.1,
    0.0, 0.1, -0.1, 0.0, 0.0, 0.1, 0.1, -0.1, -0.1, 0.0, 0.0, 0.1, 0.1, 0.0, 0.0, 0.1,
    # 11.4 - 11.5
    0.1, 0.0, 0.0, 0.0,
    # 11.5 - 16.0
    -0.1, 0.0, 0.0, 0.1, -0.1, 0.0, 0.1, -0.1, 0.0, 0.1, -0.1, 0.0, 0.0, 0.1, -0.1, 0.0, 0.1, 0.0, 0.0, -0.1,
    0.1, 0.0, -0.1, 0.0, 0.0, 0.1, 0.1, -0.1, -0.1, 0.0, 0.0, 0.1, 0.1, 0.0, -0.1, 0.0, 0.0, 0.1, 0.1, -0.1,
    0.0, 0.1, 0.2, 0.0, -0.1, 0.0, 0.0, 0.1, 0.1, -0.1, -0.1, 0.0, 0.2, 0.1, 0.0, -0.1, 0.1, 0.0, -0.1, 0.0,
    0.0, 0.1, -0.1, 0.0, 0.1, 0.0, 0.0, -0.1, -0.1, 0.0, 0.1, 0.1, 0.0, -0.1, -0.1, 0.0, 0.2, 0.1, 0.0, -0.1,
    -0.1, 0.0, 0.0, 0.1, -0.1, 0.0, 0.1, 0.0, 0.0, -0.1, -0.1, 0.0, 0.1, 0.1, 0.0, -0.1, -0.1, 0.0, 0.0, 0.1,
    0.1, 0.0, -0.1, 0.0, 0.0, 0.1, 0.1, -0.1, -0.1, 0.0, 0.0, 0.1, 0.2, 0.0, -0.1, 0.0, 0.0, 0.1, 0.1, 0.0,
    -0.1, 0.0, 0.0, 0.1, 0.1, 0.0, -0.1, 0.0, 0.0, 0.1, 0.1, -0.1, -0.1, 0.0, 0.0, 0.1, 0.1, 0.0, -0.1, 0.0,
    0.0, 0.1, 0.1, 0.0, -0.1, 0.0, 0.0, 0.1, 0.1, -0.1, -0.1, 0.0, 0.0, 0.1, 0.1, 0.0, -0.1, 0.0, 0.0, 0.1,
    0.1, 0.0, -0.1, 0.0, 0.0, 0.1, 0.1, -0.1, -0.1, 0.0, 0.0, 0.1, 0.1, 0.0, -0.1, 0.0, 0.0, 0.1, 0.1, 0.0,
]


def as_arrays(pairs):
    arr = np.array(pairs, dtype=float)
    return arr[:, 0], arr[:, 1]


t4a, e4a = as_arrays(prueba4_inicio)
k = np.arange(len(prueba4_altos))
t4_hi = prueba4_t0 + k * prueba4_dt
t4_lo = t4_hi + prueba4_dt / 2
t4b = np.column_stack([t4_hi, t4_lo]).ravel()
e4b = np.column_stack([prueba4_altos, prueba4_bajos]).ravel()

series = [
    as_arrays(prueba1),
    as_arrays(prueba2),
    as_arrays(prueba3),
    (np.concatenate([t4a, t4b]), np.concatenate([e4a, e4b])),
]

fig = plt.figure(figsize=(11.72, 5.61), dpi=100)
W, H = 1172, 561
left, right = 67, 1153
tops = [35, 160, 285, 410]
ax_h = 90

for i, (t, e) in enumerate(series):
    ax = fig.add_axes([left / W, 1 - (tops[i] + ax_h) / H, (right - left) / W, ax_h / H])
    ax.plot(t, e, color=BLUE, lw=1.4, label=labels[i])
    ax.set_xlim(0, 16)
    ax.set_ylim(*y_limits[i])
    ax.set_xticks(x_ticks)
    ax.set_yticks(y_ticks[i])
    ax.tick_params(direction="in", top=True, right=True, length=5, width=0.6,
                   color=EDGE, labelsize=12.5, labelcolor="black", pad=5)
    ax.tick_params(axis="x", pad=7)
    if i < 3:
        ax.set_xticklabels([])
    for sp in ax.spines.values():
        sp.set_color(EDGE)
        sp.set_linewidth(0.6)
    leg = ax.legend(loc="upper right", fontsize=12.5, handlelength=1.5, handletextpad=0.2,
                    borderpad=0.2, borderaxespad=0.3, fancybox=False, framealpha=1)
    leg.get_frame().set_edgecolor(EDGE)
    leg.get_frame().set_linewidth(0.6)

fig.text(610 / W, 1 - 18 / H, title, ha="center", va="center", fontsize=15.5, fontweight="bold")
fig.text(611 / W, 1 - 545 / H, "Tiempo (s)", ha="center", va="center", fontsize=16)
fig.text(18 / W, 1 - 268 / H, "Error (cm)", ha="center", va="center", rotation=90, fontsize=16)

fig.savefig("out.png", dpi=100)
